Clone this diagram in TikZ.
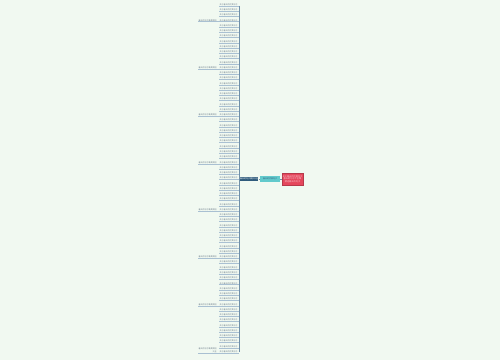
\documentclass[tikz,border=0pt]{standalone}
\usepackage{fontspec}
\newfontfamily\cjk{Noto Sans CJK SC}
\definecolor{bg}{HTML}{F1F9F1}
\definecolor{rootred}{HTML}{E5475C}
\definecolor{rootpink}{HTML}{F7C6CD}
\definecolor{teal}{HTML}{62CACC}
\definecolor{hubblue}{HTML}{2F5B7C}
\definecolor{leafline}{HTML}{A9C0D2}
\definecolor{trunk}{HTML}{6F8FA8}
\definecolor{leaftext}{HTML}{6F7F8C}
\tikzset{
  tiny/.style={font=\cjk\fontsize{2}{2.5}\selectfont},
  leafnode/.style={tiny, text=leaftext, inner sep=0.3pt, anchor=south east},
  subnode/.style={tiny, text=leaftext, inner sep=0.3pt, anchor=south east, align=right},
  uline/.style={draw=leafline, line width=0.4pt},
  trunkline/.style={draw=trunk, line width=0.8pt},
}
\begin{document}
\begin{tikzpicture}[x=1pt,y=-1pt]
\fill[bg] (0,0) rectangle (500,360);
\useasboundingbox (0,0) rectangle (500,360);
% root
\node[fill=rootred, draw=rootred!80!black, line width=0.3pt, text=rootpink, minimum width=19pt, minimum height=12pt, inner sep=0.5pt, font=\cjk\fontsize{2.2}{2.8}\selectfont, align=center] (root) at (292.5,179) {关于春天的优美句子\\春天的句子大全集\\精选春天的句子};
% middle
\node[fill=teal, text=hubblue, minimum width=20pt, minimum height=6pt, inner sep=0.4pt, tiny] (mid) at (270,179) {春天的优美句子};
% hub
\node[fill=hubblue, text=white, minimum width=18pt, minimum height=4pt, inner sep=0.3pt, tiny] (hub) at (249,179) {春天的句子摘抄大全};
\draw[trunkline] (root.west) -- (mid.east);
\draw[trunkline] (mid.west) -- (hub.east);
\coordinate (jn) at (239,179);
\draw[trunkline] (hub.west) -- (jn);
% leaves
\foreach \i in {1,...,67}{
  \pgfmathsetmacro{\yy}{5+5.26*(\i-1)}
  \node[leafnode] (l\i) at (238,\yy+0.9) {关于春天的优美句子};
  \draw[uline] (l\i.south west) -- (239,\yy+0.9);
}
\draw[trunkline] (239,5.9) -- (239,352.1);
% sub leaves
\foreach \i in {4,13,22,31,40,49,58}{
  \node[subnode] (s\i) at (217,{5+5.26*(\i-1)+0.9}) {春天的句子唯美简短};
  \draw[uline] (s\i.south west) -- (l\i.south west);
}
\node[subnode] (s67) at (217,{5+5.26*66+0.9}) {春天的句子唯美简短\\大全};
\draw[uline] (s67.south west) -- (l67.south west);
\end{tikzpicture}
\end{document}
